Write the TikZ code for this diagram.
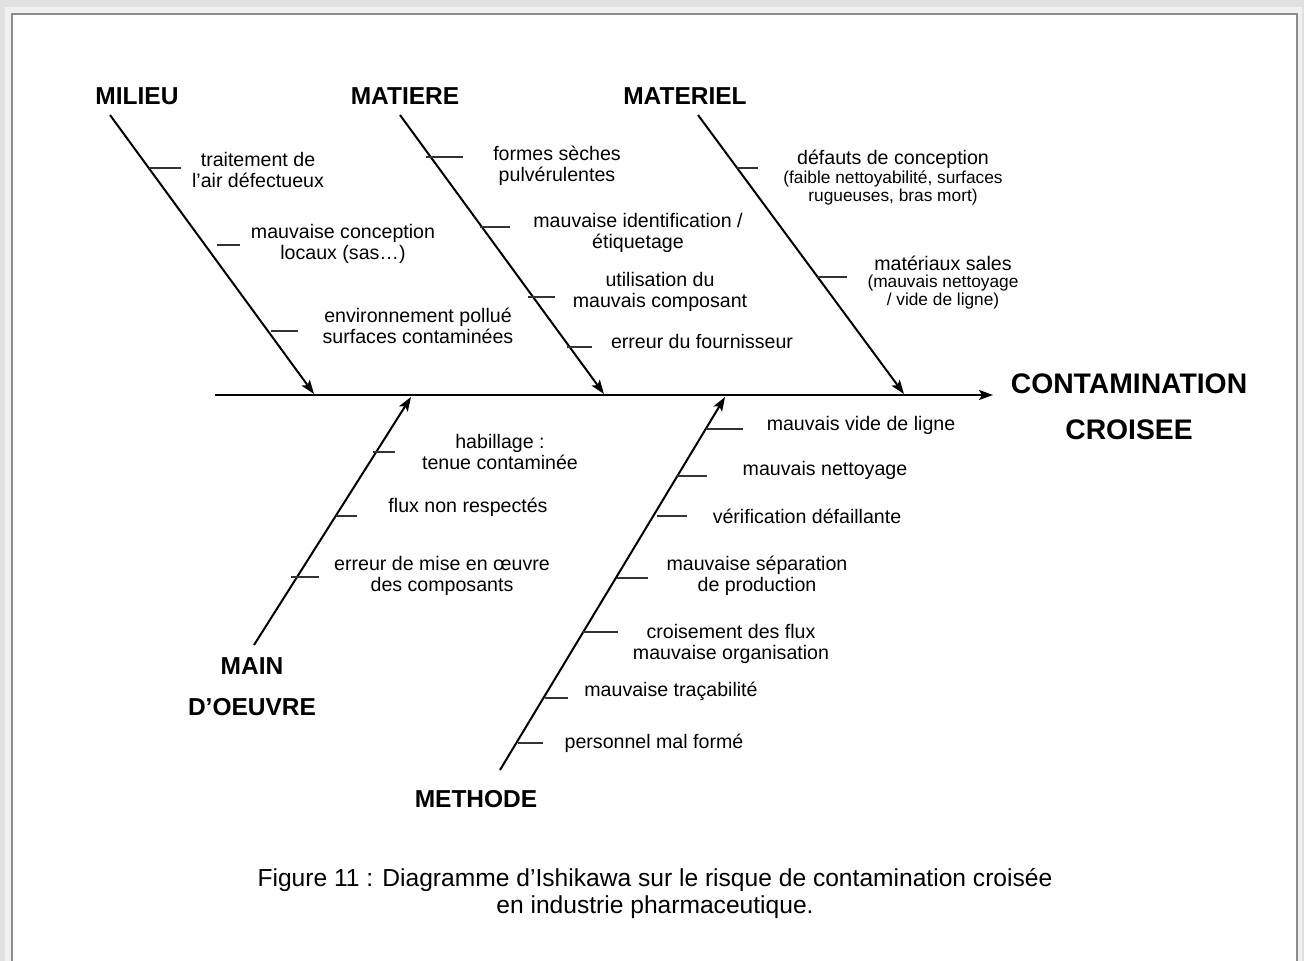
\documentclass[tikz,border=0pt]{standalone}
\usepackage{fontspec}
\setmainfont{Liberation Sans}
\usetikzlibrary{arrows.meta}
\tikzset{
  bone/.style={line width=2pt, black},
  boneArrow/.style={bone, -{Stealth[length=14pt,width=10pt,inset=3pt]}},
  tick/.style={line width=1.4pt, black!80},
  lbl/.style={inner sep=0pt, align=center, font=\fontsize{19.6}{21}\selectfont, text=black},
  sml/.style={inner sep=0pt, align=center, font=\fontsize{17.3}{18.5}\selectfont, text=black},
  ttl/.style={inner sep=0pt, font=\bfseries\fontsize{24.5}{28}\selectfont},
  big/.style={inner sep=0pt, font=\bfseries\fontsize{28.3}{30}\selectfont},
  captionstyle/.style={inner sep=0pt, align=center, font=\fontsize{24.6}{27}\selectfont},
}
\begin{document}
\begin{tikzpicture}[x=1pt,y=-1pt]
\useasboundingbox (0,0) rectangle (1304,961);
% page background and frame
\fill[black!12] (0,0) rectangle (1304,961);
\fill[black!6] (5,7) rectangle (1302,961);
\filldraw[fill=white, draw=black!45, line width=1.6pt] (12,14) rectangle (1297,975);

% coordinates of bones
\coordinate (sp0) at (215,395);
\coordinate (sp1) at (993,395);
\coordinate (m0) at (110,115);  \coordinate (m1) at (314,394);
\coordinate (t0) at (400,115);  \coordinate (t1) at (604,394);
\coordinate (r0) at (698,115);  \coordinate (r1) at (904,394);
\coordinate (h0) at (254,645);  \coordinate (h1) at (411,397);
\coordinate (e0) at (500,770);  \coordinate (e1) at (725,397);

\draw[boneArrow] (sp0) -- (sp1);
\draw[boneArrow] (m0) -- (m1);
\draw[boneArrow] (t0) -- (t1);
\draw[boneArrow] (r0) -- (r1);
\draw[boneArrow] (h0) -- (h1);
\draw[boneArrow] (e0) -- (e1);

% titles
\node[ttl] (milieu) at (137,96) {MILIEU};
\node[ttl] (matiere) at (405,96) {MATIERE};
\node[ttl] (materiel) at (685,96) {MATERIEL};
\node[ttl] (main) at (252,666) {MAIN};
\node[ttl] (oeuvre) at (252,707) {D’OEUVRE};
\node[ttl] (methode) at (476,799) {METHODE};
\node[big] (contam) at (1129,384) {CONTAMINATION};
\node[big] (croisee) at (1129,430) {CROISEE};

% ticks - MILIEU
\coordinate (ma1) at (149,168); \coordinate (mb1) at (181,168);
\coordinate (ma2) at (217,245); \coordinate (mb2) at (240,245);
\coordinate (ma3) at (271,331); \coordinate (mb3) at (298,331);
\draw[tick] (ma1) -- (mb1);
\draw[tick] (ma2) -- (mb2);
\draw[tick] (ma3) -- (mb3);
% ticks - MATIERE
\coordinate (ta1) at (426,157); \coordinate (tb1) at (463,157);
\coordinate (ta2) at (480,227); \coordinate (tb2) at (510,227);
\coordinate (ta3) at (528,297); \coordinate (tb3) at (555,297);
\coordinate (ta4) at (567,347); \coordinate (tb4) at (592,347);
\draw[tick] (ta1) -- (tb1);
\draw[tick] (ta2) -- (tb2);
\draw[tick] (ta3) -- (tb3);
\draw[tick] (ta4) -- (tb4);
% ticks - MATERIEL
\coordinate (ra1) at (737,168); \coordinate (rb1) at (758,168);
\coordinate (ra2) at (817,277); \coordinate (rb2) at (847,277);
\draw[tick] (ra1) -- (rb1);
\draw[tick] (ra2) -- (rb2);
% ticks - MAIN D'OEUVRE
\coordinate (ha1) at (373,452); \coordinate (hb1) at (395,452);
\coordinate (ha2) at (336,516); \coordinate (hb2) at (357,516);
\coordinate (ha3) at (291,577); \coordinate (hb3) at (319,577);
\draw[tick] (ha1) -- (hb1);
\draw[tick] (ha2) -- (hb2);
\draw[tick] (ha3) -- (hb3);
% ticks - METHODE
\coordinate (ea1) at (706,429); \coordinate (eb1) at (743,429);
\coordinate (ea2) at (677,476); \coordinate (eb2) at (707,476);
\coordinate (ea3) at (657,516); \coordinate (eb3) at (687,516);
\coordinate (ea4) at (617,578); \coordinate (eb4) at (648,578);
\coordinate (ea5) at (583,632); \coordinate (eb5) at (618,632);
\coordinate (ea6) at (545,698); \coordinate (eb6) at (568,698);
\coordinate (ea7) at (518,743); \coordinate (eb7) at (543,743);
\draw[tick] (ea1) -- (eb1);
\draw[tick] (ea2) -- (eb2);
\draw[tick] (ea3) -- (eb3);
\draw[tick] (ea4) -- (eb4);
\draw[tick] (ea5) -- (eb5);
\draw[tick] (ea6) -- (eb6);
\draw[tick] (ea7) -- (eb7);

% labels - MILIEU
\node[lbl] (l1) at (258,170) {traitement de\\l’air défectueux};
\node[lbl] (l2) at (343,244) {mauvaise conception\\locaux (sas…)};
\node[lbl] (l3) at (418,326) {environnement pollué\\surfaces contaminées};
% labels - MATIERE
\node[lbl] (l4) at (557,166) {formes sèches\\pulvérulentes};
\node[lbl] (l5) at (638,233) {mauvaise identification /\\étiquetage};
\node[lbl] (l6) at (660,292) {utilisation du\\mauvais composant};
\node[lbl] (l7) at (702,341) {erreur du fournisseur};
% labels - MATERIEL
\node[lbl] (l8) at (893,159) {défauts de conception};
\node[sml] (l8b) at (893,188) {(faible nettoyabilité, surfaces\\rugueuses, bras mort)};
\node[lbl] (l9) at (943,263) {matériaux sales};
\node[sml] (l9b) at (943,292) {(mauvais nettoyage\\/ vide de ligne)};
% labels - MAIN D'OEUVRE
\node[lbl] (l10) at (500,452) {habillage :\\tenue contaminée};
\node[lbl] (l11) at (468,507) {flux non respectés};
\node[lbl] (l12) at (442,576) {erreur de mise en œuvre\\des composants};
% labels - METHODE
\node[lbl] (l13) at (861,425) {mauvais vide de ligne};
\node[lbl] (l14) at (825,470) {mauvais nettoyage};
\node[lbl] (l15) at (807,516) {vérification défaillante};
\node[lbl] (l16) at (757,576) {mauvaise séparation\\de production};
\node[lbl] (l17) at (731,644) {croisement des flux\\mauvaise organisation};
\node[lbl] (l18) at (671,691) {mauvaise traçabilité};
\node[lbl] (l19) at (654,743) {personnel mal formé};

% caption
\node[captionstyle] (caption) at (655,893) {Figure 11 : Diagramme d’Ishikawa sur le risque de contamination croisée\\en industrie pharmaceutique.};
\end{tikzpicture}
\end{document}
